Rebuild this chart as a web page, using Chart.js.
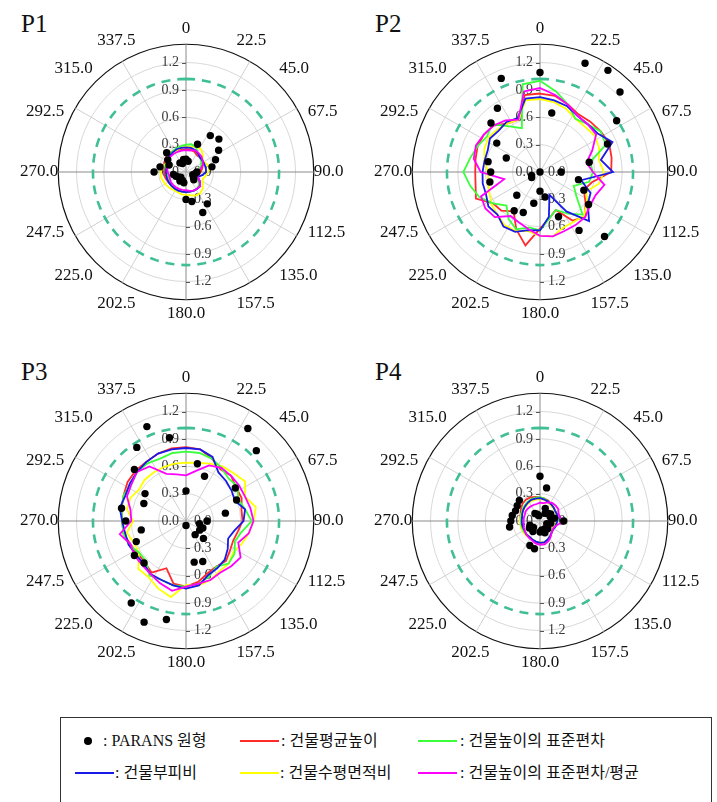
<!DOCTYPE html>
<html>
<head>
<meta charset="utf-8">
<script src="https://cdn.jsdelivr.net/npm/chart.js@4.4.1/dist/chart.umd.min.js"></script>
<style>
html,body{margin:0;padding:0;background:#fff;width:717px;height:802px;overflow:hidden;position:relative;}
canvas.panel{position:absolute;}
.ttl{position:absolute;font-family:"Liberation Serif","Times New Roman",serif;font-size:25px;line-height:25px;color:#111;}
#legend{position:absolute;left:60px;top:717px;width:652px;height:110px;border:1px solid #333;box-sizing:border-box;}
#legend .t{position:absolute;font-family:"Liberation Serif","Noto Sans CJK KR",serif;font-size:16px;line-height:20px;color:#111;white-space:nowrap;}
#legend .d{position:absolute;width:8px;height:8px;border-radius:50%;background:#000;}
#legend .l{position:absolute;width:39px;height:2px;}
</style>
</head>
<body>
<div class="ttl" style="left:21px;top:11px">P1</div>
<div class="ttl" style="left:375px;top:11px">P2</div>
<div class="ttl" style="left:21px;top:359px">P3</div>
<div class="ttl" style="left:375px;top:359px">P4</div>
<canvas id="c1" class="panel" width="332" height="332" style="left:17px;top:5px"></canvas>
<canvas id="c2" class="panel" width="332" height="332" style="left:371px;top:5px"></canvas>
<canvas id="c3" class="panel" width="332" height="332" style="left:17px;top:354px"></canvas>
<canvas id="c4" class="panel" width="332" height="332" style="left:371px;top:354px"></canvas>
<div id="legend">
  <span class="d" style="left:23px;top:19px"></span>
  <span class="t" style="left:42px;top:13px">: PARANS 원형</span>
  <span class="l" style="left:179px;top:22px;background:#ff2a2a"></span>
  <span class="t" style="left:220px;top:13px">: 건물평균높이</span>
  <span class="l" style="left:357px;top:22px;background:#3cff3c"></span>
  <span class="t" style="left:399px;top:13px">: 건물높이의 표준편차</span>
  <span class="l" style="left:14px;top:54px;background:#1a1ae6"></span>
  <span class="t" style="left:54px;top:45px">: 건물부피비</span>
  <span class="l" style="left:179px;top:54px;background:#ffff00"></span>
  <span class="t" style="left:219px;top:45px">: 건물수평면적비</span>
  <span class="l" style="left:357px;top:54px;background:#ff00ff"></span>
  <span class="t" style="left:399px;top:45px">: 건물높이의 표준편차/평균</span>
</div>
<script>
// ---- axis labels ----
const angleTickLabels = ['0','22.5','45.0','67.5','90.0','112.5','135.0','157.5','180.0','202.5','225.0','247.5','270.0','292.5','315.0','337.5'];
const radialTickValues = [0.0, 0.3, 0.6, 0.9, 1.2];
const radialMax = 1.4;
const refCircleValue = 1.02;
// 32 wind directions, 11.25 deg apart, starting at 0 (north), clockwise

// ---- P1 ----
const p1Parans  = [0.14,0.12,0.33,0.48,0.51,0.43,0.35,0.29,0.12,0.10,0.08,0.10,0.12,0.42,0.48,0.33,0.30,0.12,0.10,0.12,0.08,0.10,0.12,0.14,0.35,0.29,0.20,0.24,0.30,0.12,0.10,0.14];
const p1Red     = [0.25,0.25,0.24,0.22,0.22,0.22,0.20,0.18,0.16,0.14,0.14,0.18,0.22,0.22,0.22,0.22,0.22,0.22,0.22,0.22,0.22,0.22,0.23,0.24,0.24,0.24,0.26,0.27,0.28,0.27,0.26,0.25];
const p1Green   = [0.30,0.31,0.29,0.24,0.22,0.20,0.18,0.14,0.12,0.10,0.12,0.16,0.20,0.22,0.22,0.22,0.22,0.22,0.22,0.22,0.22,0.21,0.20,0.21,0.22,0.23,0.24,0.25,0.26,0.27,0.28,0.29];
const p1Blue    = [0.27,0.27,0.26,0.24,0.22,0.22,0.22,0.22,0.22,0.18,0.14,0.18,0.22,0.22,0.22,0.22,0.22,0.22,0.22,0.22,0.22,0.22,0.22,0.22,0.22,0.22,0.23,0.24,0.25,0.26,0.27,0.27];
const p1Yellow  = [0.28,0.28,0.30,0.30,0.26,0.22,0.24,0.26,0.24,0.22,0.20,0.22,0.26,0.28,0.28,0.26,0.25,0.25,0.24,0.24,0.25,0.26,0.27,0.28,0.28,0.26,0.24,0.24,0.24,0.25,0.26,0.27];
const p1Magenta = [0.24,0.24,0.26,0.25,0.24,0.22,0.20,0.16,0.12,0.12,0.14,0.18,0.22,0.22,0.22,0.21,0.20,0.20,0.20,0.20,0.20,0.20,0.19,0.19,0.20,0.21,0.22,0.23,0.24,0.24,0.24,0.24];

// ---- P2 ----
const p2Parans  = [1.09,0.66,1.29,1.34,1.24,1.01,0.80,0.55,0.23,0.43,0.52,0.64,1.00,0.77,0.53,0.28,0.21,0.35,0.48,0.51,0.36,0.11,0.10,0.56,0.54,0.58,0.40,0.57,0.76,0.84,1.11,0.00];
const p2Red     = [0.86,0.85,0.80,0.76,0.78,0.80,0.82,0.80,0.78,0.58,0.52,0.60,0.70,0.64,0.45,0.52,0.62,0.82,0.68,0.52,0.60,0.62,0.76,0.72,0.71,0.72,0.74,0.74,0.72,0.64,0.62,0.86];
const p2Green   = [1.00,0.90,0.80,0.70,0.74,0.80,0.78,0.56,0.58,0.55,0.40,0.48,0.66,0.55,0.45,0.52,0.64,0.62,0.68,0.62,0.52,0.62,0.72,0.78,0.84,0.78,0.74,0.70,0.74,0.60,0.52,0.98];
const p2Blue    = [0.82,0.80,0.78,0.74,0.74,0.76,0.86,0.68,0.80,0.46,0.60,0.63,0.76,0.52,0.27,0.50,0.64,0.65,0.71,0.72,0.66,0.68,0.64,0.64,0.63,0.62,0.62,0.66,0.64,0.66,0.64,0.82];
const p2Yellow  = [0.80,0.78,0.75,0.70,0.70,0.72,0.70,0.66,0.70,0.66,0.55,0.62,0.68,0.66,0.66,0.72,0.70,0.66,0.70,0.70,0.66,0.64,0.60,0.58,0.57,0.62,0.66,0.68,0.66,0.64,0.62,0.80];
const p2Magenta = [0.92,0.86,0.80,0.74,0.74,0.74,0.62,0.52,0.58,0.72,0.66,0.66,0.70,0.70,0.70,0.72,0.70,0.64,0.60,0.58,0.70,0.72,0.70,0.40,0.65,0.74,0.76,0.74,0.72,0.68,0.62,0.90];

// ---- P3 ----
const p3Parans  = [0.33,0.64,0.53,1.22,1.09,0.65,0.60,0.44,0.23,0.15,0.20,0.18,0.27,0.18,0.48,0.46,0.05,1.10,1.20,1.08,0.65,0.68,0.59,0.50,0.66,0.72,0.50,0.54,0.80,0.97,1.12,0.93];
const p3Red     = [0.81,0.80,0.74,0.68,0.70,0.66,0.66,0.62,0.62,0.58,0.56,0.58,0.62,0.60,0.62,0.68,0.72,0.70,0.56,0.68,0.64,0.64,0.66,0.70,0.70,0.72,0.74,0.77,0.78,0.78,0.80,0.81];
const p3Green   = [0.76,0.76,0.74,0.70,0.66,0.68,0.62,0.66,0.72,0.62,0.58,0.64,0.66,0.60,0.66,0.70,0.72,0.72,0.70,0.72,0.62,0.62,0.68,0.70,0.70,0.72,0.74,0.72,0.76,0.76,0.74,0.76];
const p3Blue    = [0.80,0.80,0.76,0.64,0.62,0.60,0.58,0.66,0.63,0.54,0.50,0.55,0.60,0.62,0.64,0.72,0.74,0.72,0.70,0.70,0.66,0.66,0.68,0.68,0.70,0.74,0.72,0.74,0.76,0.78,0.80,0.80];
const p3Yellow  = [0.64,0.65,0.68,0.72,0.74,0.78,0.70,0.78,0.74,0.70,0.66,0.62,0.66,0.66,0.70,0.72,0.70,0.85,0.80,0.74,0.74,0.62,0.62,0.66,0.58,0.66,0.66,0.62,0.64,0.64,0.64,0.64];
const p3Magenta = [0.50,0.56,0.66,0.70,0.70,0.70,0.70,0.72,0.74,0.70,0.62,0.72,0.70,0.68,0.70,0.70,0.72,0.78,0.74,0.70,0.68,0.68,0.66,0.74,0.60,0.62,0.70,0.72,0.76,0.72,0.56,0.52];

// ---- P4 ----
const p4Parans  = [0.49,0.37,0.15,0.10,0.12,0.14,0.12,0.16,0.26,0.12,0.08,0.10,0.12,0.10,0.14,0.10,0.12,0.31,0.29,0.14,0.10,0.14,0.12,0.34,0.32,0.31,0.29,0.30,0.32,0.10,0.08,0.06];
const p4Red     = [0.26,0.25,0.24,0.22,0.21,0.20,0.20,0.19,0.18,0.17,0.16,0.17,0.18,0.20,0.22,0.24,0.24,0.24,0.22,0.21,0.21,0.21,0.21,0.21,0.21,0.22,0.23,0.25,0.27,0.28,0.28,0.27];
const p4Green   = [0.26,0.25,0.23,0.22,0.21,0.20,0.20,0.20,0.19,0.18,0.17,0.17,0.18,0.20,0.22,0.24,0.24,0.23,0.22,0.21,0.21,0.21,0.21,0.21,0.21,0.21,0.22,0.23,0.24,0.25,0.26,0.26];
const p4Blue    = [0.25,0.24,0.23,0.22,0.21,0.20,0.20,0.20,0.19,0.18,0.18,0.17,0.18,0.20,0.22,0.24,0.24,0.23,0.22,0.21,0.21,0.20,0.20,0.20,0.20,0.20,0.21,0.22,0.23,0.24,0.25,0.25];
const p4Yellow  = [0.24,0.24,0.22,0.21,0.20,0.20,0.19,0.19,0.18,0.17,0.16,0.17,0.18,0.20,0.22,0.24,0.24,0.23,0.22,0.22,0.22,0.22,0.22,0.22,0.22,0.22,0.22,0.22,0.22,0.23,0.24,0.24];
const p4Magenta = [0.20,0.20,0.22,0.24,0.24,0.24,0.22,0.22,0.27,0.20,0.17,0.17,0.18,0.21,0.24,0.26,0.26,0.25,0.23,0.22,0.21,0.20,0.19,0.18,0.18,0.18,0.18,0.19,0.19,0.19,0.19,0.19];

// ---- build ----
const FINE = 96;            // 3.75 deg label grid: data every 3rd, spokes every 8th, labels every 6th
const fineLabels = Array.from({length: FINE}, (_, i) => (i % 6 === 0 ? angleTickLabels[i / 6] : ''));
function spread(vals) { return Array.from({length: FINE}, (_, i) => (i % 3 === 0 ? vals[i / 3] : null)); }
const SERIF = '"Liberation Serif","Times New Roman",serif';

const COLORS = {red:'#ff2a2a', green:'#3cff3c', blue:'#1a1ae6', yellow:'#ffff00', magenta:'#ff00ff', ref:'#3fbf93'};

const radialTickPlugin = {
  id: 'radialTickLabels',
  beforeDatasetsDraw(chart) {
    const s = chart.scales.r, ctx = chart.ctx;
    ctx.save();
    ctx.font = '14px ' + SERIF;
    ctx.fillStyle = '#3a3a3a';
    ctx.strokeStyle = '#555';
    ctx.lineWidth = 1;
    ctx.textBaseline = 'middle';
    radialTickValues.forEach(v => {
      const d = s.getDistanceFromCenterForValue(v);
      const txt = v.toFixed(1);
      ctx.textAlign = 'right';
      ctx.fillText(txt, s.xCenter - 7, s.yCenter - d);
      ctx.textAlign = 'left';
      ctx.fillText(txt, s.xCenter + 8, s.yCenter + d);
      if (v > 0) {
        ctx.beginPath();
        ctx.moveTo(s.xCenter - 4, Math.round(s.yCenter - d) + 0.5);
        ctx.lineTo(s.xCenter, Math.round(s.yCenter - d) + 0.5);
        ctx.moveTo(s.xCenter, Math.round(s.yCenter + d) + 0.5);
        ctx.lineTo(s.xCenter + 4, Math.round(s.yCenter + d) + 0.5);
        ctx.stroke();
      }
    });
    ctx.restore();
  }
};

function lineSet(label, vals, color) {
  return {label, data: spread(vals), borderColor: color, backgroundColor: color, borderWidth: 1.8,
          pointRadius: 0, fill: false, spanGaps: true, tension: 0};
}

function makePanel(id, parans, red, green, blue, yellow, magenta) {
  new Chart(document.getElementById(id), {
    type: 'radar',
    data: {
      labels: fineLabels,
      datasets: [
        {label: 'PARANS 원형', data: spread(parans), showLine: false, pointRadius: 3.7, pointBorderWidth: 0,
         pointBackgroundColor: '#000', borderColor: '#000', backgroundColor: '#000', fill: false},
        lineSet('건물높이의 표준편차/평균', magenta, COLORS.magenta),
        lineSet('건물부피비', blue, COLORS.blue),
        lineSet('건물높이의 표준편차', green, COLORS.green),
        lineSet('건물수평면적비', yellow, COLORS.yellow),
        lineSet('건물평균높이', red, COLORS.red),
        {label: 'ref', data: fineLabels.map(() => refCircleValue), borderColor: COLORS.ref, borderWidth: 2.6,
         borderDash: [9, 7], pointRadius: 0, fill: false, tension: 0}
      ]
    },
    options: {
      responsive: false, animation: false, devicePixelRatio: 1, events: [],
      plugins: {legend: {display: false}, tooltip: {enabled: false}},
      scales: {
        r: {
          min: 0, max: radialMax, startAngle: 0,
          afterBuildTicks: (scale) => { scale.ticks = radialTickValues.concat([radialMax]).map(v => ({value: v})); },
          ticks: {display: false},
          grid: {circular: true,
                 color: (c) => (c.tick && c.tick.value === radialMax ? '#111' : '#d8d8d8'),
                 lineWidth: (c) => (c.tick && c.tick.value === radialMax ? 1.2 : 1)},
          angleLines: {lineWidth: 1,
                 color: (c) => (c.index % 24 === 0 ? '#8a8a8a' : (c.index % 8 === 0 ? '#d0d0d0' : 'rgba(0,0,0,0)'))},
          pointLabels: {
            color: '#111',
            font: (c) => ({family: SERIF, size: c.index % 6 === 0 ? 17 : 1}),
            padding: (c) => (c.index === 0 ? 6 : (c.index % 24 === 0 && c.index !== 48 ? 0 : 4))
          }
        }
      }
    },
    plugins: [radialTickPlugin]
  });
}

makePanel('c1', p1Parans, p1Red, p1Green, p1Blue, p1Yellow, p1Magenta);
makePanel('c2', p2Parans, p2Red, p2Green, p2Blue, p2Yellow, p2Magenta);
makePanel('c3', p3Parans, p3Red, p3Green, p3Blue, p3Yellow, p3Magenta);
makePanel('c4', p4Parans, p4Red, p4Green, p4Blue, p4Yellow, p4Magenta);
</script>
</body>
</html>
